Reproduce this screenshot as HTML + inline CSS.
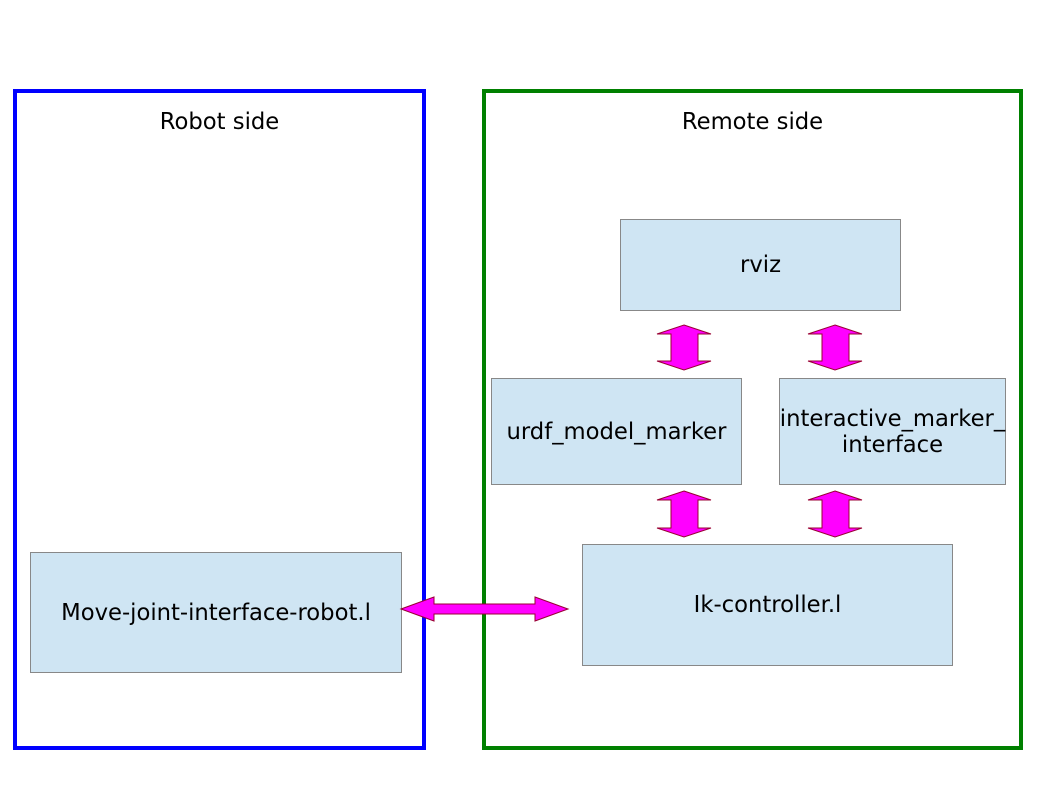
<!DOCTYPE html><html><head><style>
body{margin:0;width:1058px;height:794px;background:#fff;position:relative;font-family:"DejaVu Sans",sans-serif;overflow:hidden}
.f{position:absolute;box-sizing:border-box}
.b{position:absolute;box-sizing:border-box;background:#cfe5f3;border:1px solid #888;display:flex;align-items:center;justify-content:center;text-align:center;font-size:22.7px;color:#000;line-height:26px}
.t{position:absolute;font-size:22.7px;text-align:center}
svg{position:absolute;left:0;top:0}
</style></head><body>
<div class="f" style="left:13px;top:89px;width:413px;height:661px;border:4px solid #0000ff"></div>
<div class="f" style="left:482px;top:89px;width:541px;height:661px;border:4px solid #008000"></div>
<div class="t" style="left:14px;top:109px;width:411px">Robot side</div>
<div class="t" style="left:483px;top:109px;width:539px">Remote side</div>
<div class="b" style="left:620px;top:219px;width:281px;height:92px">rviz</div>
<div class="b" style="left:491px;top:378px;width:251px;height:107px">urdf_model_marker</div>
<div class="b" style="left:779px;top:378px;width:227px;height:107px">interactive_marker_<br>interface</div>
<div class="b" style="left:582px;top:544px;width:371px;height:122px">Ik-controller.l</div>
<div class="b" style="left:30px;top:552px;width:372px;height:121px">Move-joint-interface-robot.l</div>
<svg width="1058" height="794">
<g fill="#ff00ff" stroke="#990033" stroke-width="1">
<polygon points="401,609 434,597 434,604 535,604 535,597 568,609 535,621 535,614 434,614 434,621"/>
<polygon points="684,325 711,334 698,334 698,361 711,361 684,370 657,361 671,361 671,334 657,334"/>
<polygon points="835,325 862,334 849,334 849,361 862,361 835,370 808,361 822,361 822,334 808,334"/>
<polygon points="684,491 711,500 698,500 698,528 711,528 684,537 657,528 671,528 671,500 657,500"/>
<polygon points="835,491 862,500 849,500 849,528 862,528 835,537 808,528 822,528 822,500 808,500"/>
</g></svg>
</body></html>
